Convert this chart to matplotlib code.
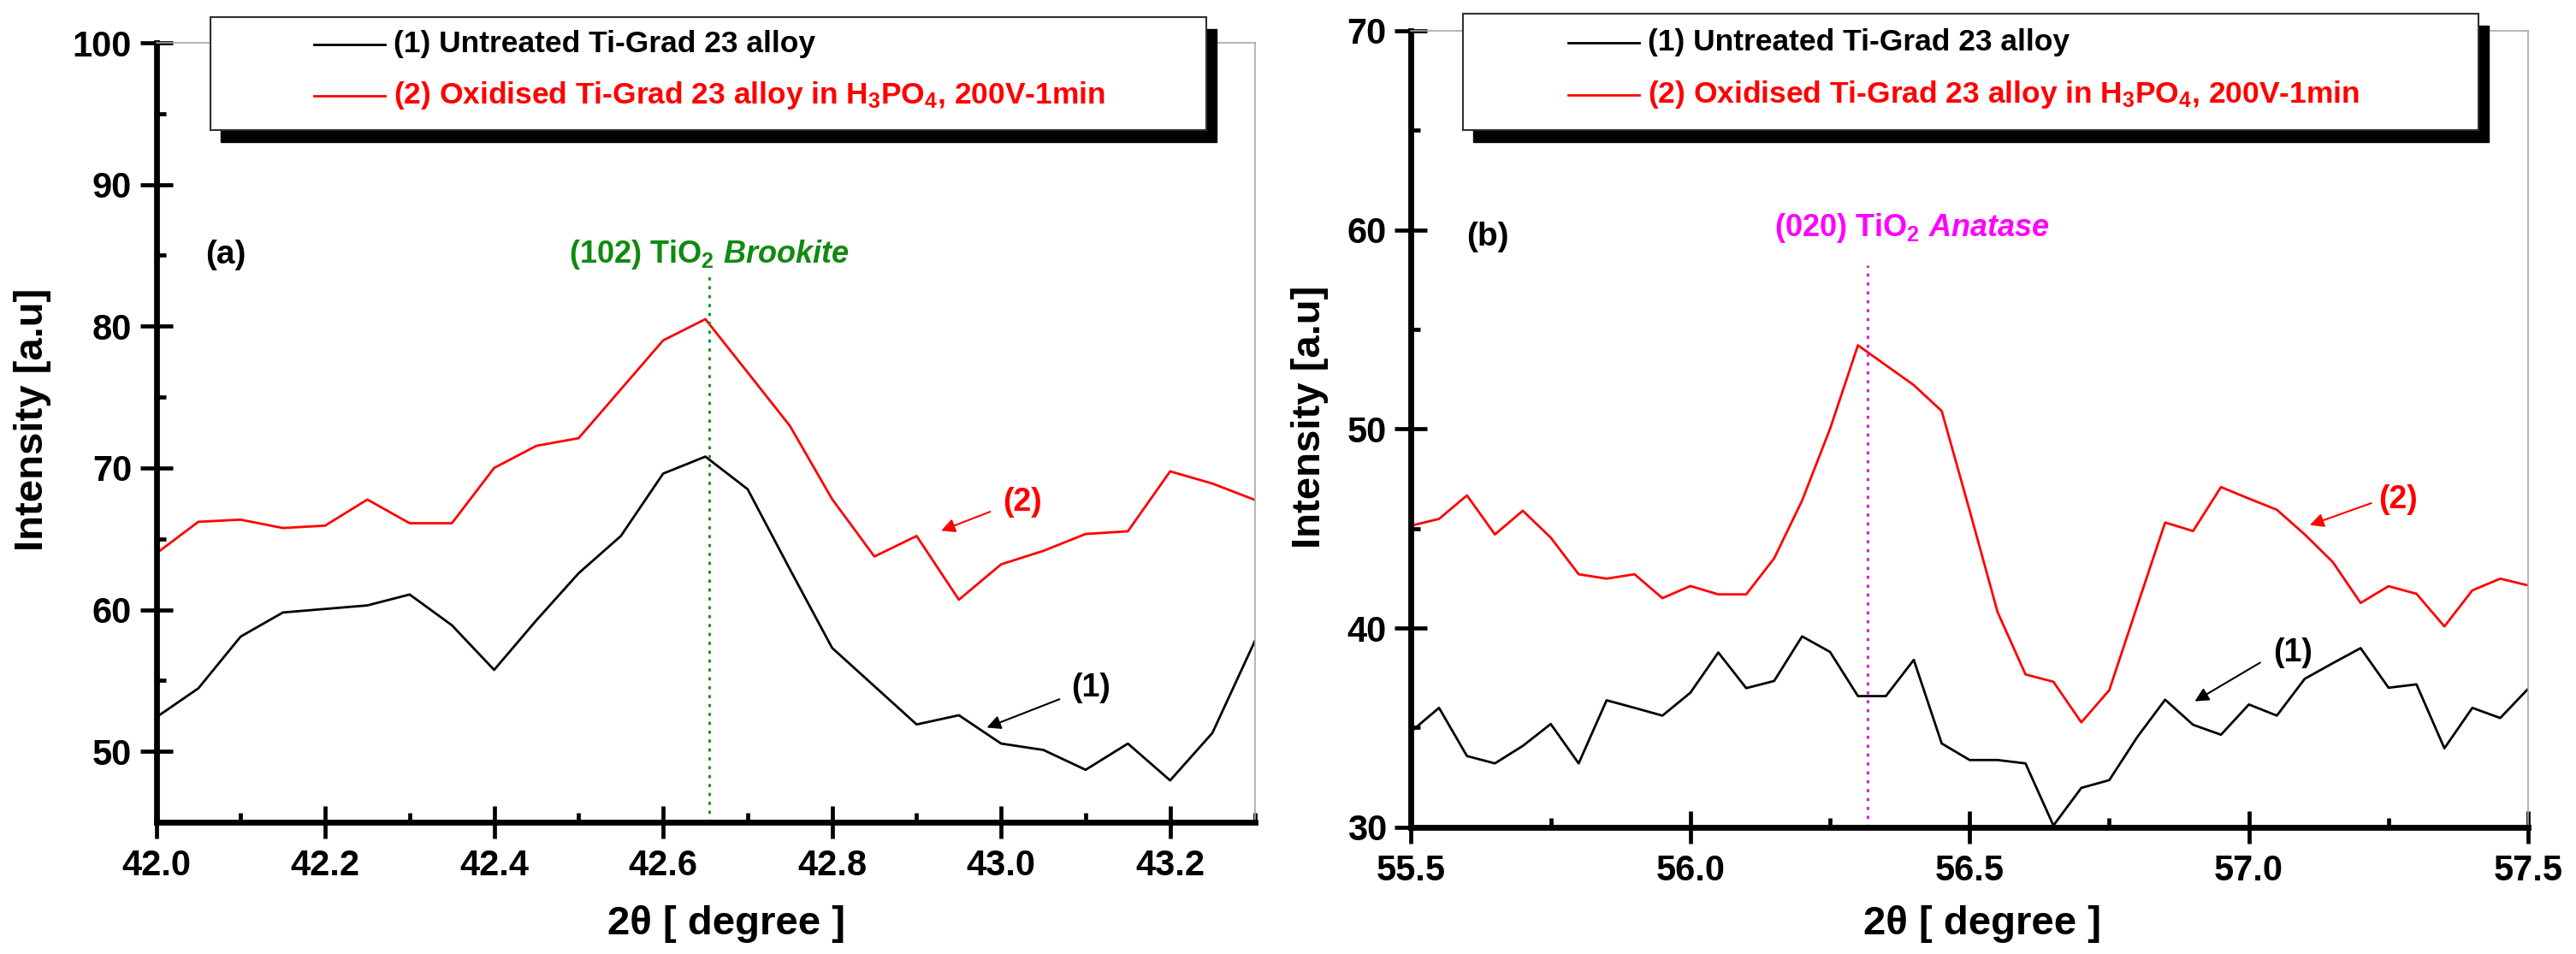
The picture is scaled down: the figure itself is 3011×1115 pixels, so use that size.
import numpy as np
import matplotlib
matplotlib.use("Agg")
import matplotlib.pyplot as plt
from matplotlib.patches import Rectangle
from matplotlib.lines import Line2D
from matplotlib.ticker import MultipleLocator, FormatStrFormatter

plt.rcParams["font.family"] = ["Liberation Sans", "DejaVu Sans"]
plt.rcParams["font.weight"] = "bold"
plt.rcParams["mathtext.fontset"] = "custom"
plt.rcParams["mathtext.rm"] = "Liberation Sans:bold"
plt.rcParams["mathtext.bf"] = "Liberation Sans:bold"
plt.rcParams["mathtext.it"] = "Liberation Sans:italic:bold"
plt.rcParams["mathtext.default"] = "rm"

# (a) 2theta 42.0 - 43.3
theta_a = [42.00, 42.05, 42.10, 42.15, 42.20, 42.25, 42.30, 42.35, 42.40,
           42.45, 42.50, 42.55, 42.60, 42.65, 42.70, 42.75, 42.80, 42.85,
           42.90, 42.95, 43.00, 43.05, 43.10, 43.15, 43.20, 43.25, 43.30]
untreated_a = [52.4, 54.45, 58.1, 59.8, 60.05, 60.3, 61.07, 58.9, 55.75,
               59.25, 62.57, 65.2, 69.6, 70.8, 68.5, 62.85, 57.3, 54.6,
               51.9, 52.55, 50.55, 50.1, 48.7, 50.55, 47.95, 51.3, 57.75]
oxidised_a = [63.96, 66.2, 66.35, 65.76, 65.93, 67.77, 66.1, 66.1, 70.0,
              71.56, 72.1, 75.55, 79.0, 80.5, 76.74, 72.97, 67.8, 63.75,
              65.2, 60.7, 63.2, 64.15, 65.34, 65.53, 69.76, 68.9, 67.75]

# (b) 2theta 55.5 - 57.5
theta_b = [55.50, 55.55, 55.60, 55.65, 55.70, 55.75, 55.80, 55.85, 55.90,
           55.95, 56.00, 56.05, 56.10, 56.15, 56.20, 56.25, 56.30, 56.35,
           56.40, 56.45, 56.50, 56.55, 56.60, 56.65, 56.70, 56.75, 56.80,
           56.85, 56.90, 56.95, 57.00, 57.05, 57.10, 57.15, 57.20, 57.25,
           57.30, 57.35, 57.40, 57.45, 57.50]
untreated_b = [34.8, 35.99, 33.57, 33.2, 34.08, 35.18, 33.2, 36.37, 35.99,
               35.6, 36.75, 38.77, 36.98, 37.34, 39.58, 38.8, 36.58, 36.58,
               38.4, 34.2, 33.37, 33.37, 33.2, 30.08, 31.97, 32.36, 34.52,
               36.4, 35.14, 34.64, 36.16, 35.6, 37.45, 38.23, 38.99, 37.0,
               37.17, 33.96, 35.99, 35.48, 36.95]
oxidised_b = [45.14, 45.48, 46.66, 44.7, 45.89, 44.54, 42.7, 42.48, 42.7,
              41.5, 42.11, 41.69, 41.69, 43.5, 46.4, 50.0, 54.2, 53.2,
              52.2, 50.9, 45.9, 40.8, 37.67, 37.3, 35.26, 36.88, 41.1,
              45.3, 44.87, 47.08, 46.5, 45.94, 44.7, 43.32, 41.26, 42.1,
              41.72, 40.08, 41.89, 42.48, 42.14]

label1 = "(1) Untreated Ti-Grad 23 alloy"
label2 = "(2) Oxidised Ti-Grad 23 alloy in H$_3$PO$_4$, 200V-1min"

W, H = 3011, 1115
fig = plt.figure(figsize=(W / 100, H / 100), dpi=100)


def px_axes(x0, x1, ytop, ybot):
    return fig.add_axes([x0 / W, 1 - ybot / H, (x1 - x0) / W, (ybot - ytop) / H])


def style(ax, xmaj, xmin, ymaj, ymin):
    for s in ["left", "bottom"]:
        ax.spines[s].set_linewidth(4.9)
        ax.spines[s].set_color("black")
    for s in ["top", "right"]:
        ax.spines[s].set_linewidth(1.2)
        ax.spines[s].set_color("#a8a8a8")
    ax.xaxis.set_major_locator(MultipleLocator(xmaj))
    ax.xaxis.set_minor_locator(MultipleLocator(xmin))
    ax.yaxis.set_major_locator(MultipleLocator(ymaj))
    ax.yaxis.set_minor_locator(MultipleLocator(ymin))
    ax.xaxis.set_major_formatter(FormatStrFormatter("%.1f"))
    ax.tick_params(which="major", direction="inout", length=27, width=3.4,
                   labelsize=30, top=False, right=False)
    ax.tick_params(which="minor", direction="in", length=8, width=3.4,
                   top=False, right=False)
    ax.tick_params(axis="x", which="major", pad=9)
    ax.tick_params(axis="y", which="major", pad=7)
    ax.set_xlabel("2\u03b8 [ degree ]", fontsize=34, fontweight="bold")
    ax.set_ylabel("Intensity [a.u]", fontsize=34, fontweight="bold")
    ax.xaxis.label.set_va("center")
    ax.yaxis.label.set_va("center")


def legend_box(x0, x1, y0, y1, sx0, sx1, ty1, ty2):
    fig.add_artist(Rectangle(((x0 + 12) / W, 1 - (y1 + 14) / H),
                             (x1 - x0) / W, (y1 - y0) / H,
                             transform=fig.transFigure, facecolor="black",
                             edgecolor="black", zorder=5))
    fig.add_artist(Rectangle((x0 / W, 1 - y1 / H), (x1 - x0) / W, (y1 - y0) / H,
                             transform=fig.transFigure, facecolor="white",
                             edgecolor="#303030", linewidth=1.5, zorder=6))
    for ty, col, txt in [(ty1, "black", label1), (ty2, "red", label2)]:
        fig.add_artist(Line2D([sx0 / W, sx1 / W], [1 - ty / H, 1 - ty / H],
                              transform=fig.transFigure, color=col,
                              linewidth=2, zorder=7))
        fig.text((sx1 + 10) / W, 1 - ty / H, txt, color=col, fontsize=25.5,
                 fontweight="bold", va="center", ha="left", zorder=8)


def pointer(ax, text, pos, tail, tip, color):
    ax.text(pos[0], pos[1], text, color=color, fontsize=27, fontweight="bold",
            ha="center", va="center")
    ax.annotate("", xy=tip, xytext=tail,
                arrowprops=dict(arrowstyle="-|>", color=color, lw=1.5,
                                mutation_scale=24, shrinkA=0, shrinkB=0))


# ---- panel (a)
ax1 = px_axes(182.5, 1466.5, 50, 961)
ax1.plot(theta_a, untreated_a, color="black", lw=2)
ax1.plot(theta_a, oxidised_a, color="red", lw=2)
ax1.set_xlim(42.0, 43.3)
ax1.set_ylim(45, 100)
style(ax1, 0.2, 0.1, 10, 5)
ax1.set_xticks([42.0, 42.2, 42.4, 42.6, 42.8, 43.0, 43.2])
ax1.xaxis.set_label_coords(0.519, -0.131)
ax1.yaxis.set_label_coords(-0.1127, 0.517)
ax1.plot([42.655, 42.655], [45, 83.6], color="#1a9a1a", lw=2.2,
         linestyle=(0, (1.2, 2.2)))
ax1.text(42.654, 85.07, "(102) TiO$_2$ $\\mathit{Brookite}$", color="#108a10",
         fontsize=26, fontweight="bold", ha="center", va="center")
ax1.text(42.058, 85.0, "(a)", fontsize=28, fontweight="bold", ha="left",
         va="center")
pointer(ax1, "(2)", (43.025, 67.58), (42.987, 66.91), (42.929, 65.57), "red")
pointer(ax1, "(1)", (43.106, 54.49), (43.069, 53.68), (42.983, 51.68), "black")

# ---- panel (b)
ax2 = px_axes(1649.4, 2955.1, 35.9, 966.7)
ax2.plot(theta_b, untreated_b, color="black", lw=2)
ax2.plot(theta_b, oxidised_b, color="red", lw=2)
ax2.set_xlim(55.5, 57.5)
ax2.set_ylim(30, 70)
style(ax2, 0.5, 0.25, 10, 5)
ax2.xaxis.set_label_coords(0.511, -0.122)
ax2.yaxis.set_label_coords(-0.0907, 0.515)
ax2.plot([56.318, 56.318], [30, 58.2], color="#e020e0", lw=2.2,
         linestyle=(0, (1.2, 2.2)))
ax2.text(56.396, 60.1, "(020) TiO$_2$ $\\mathit{Anatase}$", color="#ff00ff",
         fontsize=26, fontweight="bold", ha="center", va="center")
ax2.text(55.599, 59.65, "(b)", fontsize=28, fontweight="bold", ha="left",
         va="center")
pointer(ax2, "(2)", (57.267, 46.43), (57.219, 46.27), (57.109, 45.17), "red")
pointer(ax2, "(1)", (57.079, 38.77), (57.02, 38.26), (56.903, 36.32), "black")

legend_box(246, 1409.6, 20, 151.8, 366.5, 449.8, 51.5, 112)
legend_box(1710, 2897.3, 16, 151.8, 1832.5, 1916.3, 50, 110.7)

fig.savefig("out.png", dpi=100)
